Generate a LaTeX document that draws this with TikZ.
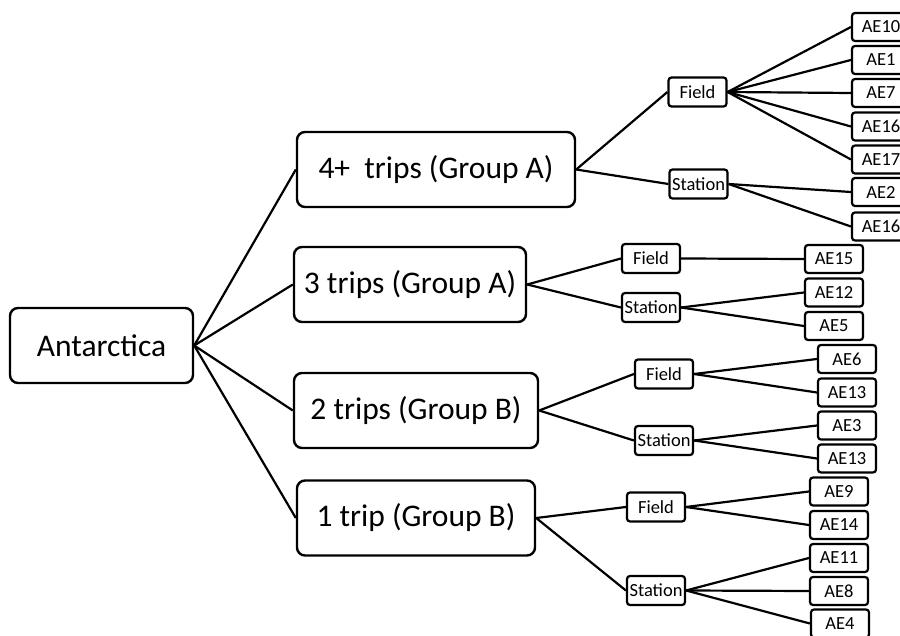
\documentclass[tikz,border=0pt]{standalone}
\usepackage{fontspec}
\setmainfont{Carlito}
\begin{document}
\begin{tikzpicture}[x=1pt,y=-1pt,
  bigbox/.style={draw, line width=2.4pt, rounded corners=8pt, inner sep=0pt, minimum height=75pt, font=\fontsize{31.5}{36}\selectfont},
  midbox/.style={draw, line width=2.2pt, rounded corners=3pt, inner sep=0pt, minimum width=58pt, minimum height=29pt, font=\fontsize{18.5}{21}\selectfont},
  leafbox/.style={draw, line width=2.2pt, rounded corners=3pt, inner sep=0pt, minimum width=58pt, minimum height=28pt, font=\fontsize{18.5}{21}\selectfont},
  conn/.style={line width=2.2pt}]
\useasboundingbox (0,0) rectangle (900,636);
\clip (0,0) rectangle (900,636);
% root and groups
\node[bigbox, minimum width=183pt] (ant) at (101.5,345.5) {Antarctica};
\node[bigbox, minimum width=278pt] (g4) at (436,169.5) {4+~~trips (Group A)};
\node[bigbox, minimum width=232pt] (g3) at (410,284.5) {3 trips (Group A)};
\node[bigbox, minimum width=244pt] (g2) at (416,410.5) {2 trips (Group B)};
\node[bigbox, minimum width=238pt] (g1) at (416,518) {1 trip (Group B)};
% field / station
\node[midbox] (f4) at (697.5,92) {Field};
\node[midbox] (s4) at (698.5,184) {Station};
\node[midbox] (f3) at (651,258.5) {Field};
\node[midbox] (s3) at (651,307.5) {Station};
\node[midbox] (f2) at (664,374) {Field};
\node[midbox] (s2) at (664,440.5) {Station};
\node[midbox] (f1) at (656,507) {Field};
\node[midbox] (s1) at (656,590.5) {Station};
% leaves
\node[leafbox] (a10) at (881,27) {AE10};
\node[leafbox] (a1) at (881,60) {AE1};
\node[leafbox] (a7) at (881,93) {AE7};
\node[leafbox] (a16) at (881,126.5) {AE16};
\node[leafbox] (a17) at (881,159.5) {AE17};
\node[leafbox] (a2) at (881,192) {AE2};
\node[leafbox] (a16b) at (881,226.5) {AE16};
\node[leafbox] (a15) at (834,259) {AE15};
\node[leafbox] (a12) at (834,292.5) {AE12};
\node[leafbox] (a5) at (834,326) {AE5};
\node[leafbox] (a6) at (847,359) {AE6};
\node[leafbox] (a13) at (847,392.5) {AE13};
\node[leafbox] (a3) at (847,425.5) {AE3};
\node[leafbox] (a13b) at (847,458.5) {AE13};
\node[leafbox] (a9) at (839,491.5) {AE9};
\node[leafbox] (a14) at (839,525) {AE14};
\node[leafbox] (a11) at (839,558) {AE11};
\node[leafbox] (a8) at (839,591) {AE8};
\node[leafbox] (a4) at (840,623.5) {AE4};
% connectors
\foreach \g in {g4,g3,g2,g1} \draw[conn] (ant.east) -- (\g.west);
\draw[conn] (g4.east) -- (f4.west);
\draw[conn] (g4.east) -- (s4.west);
\draw[conn] (g3.east) -- (f3.west);
\draw[conn] (g3.east) -- (s3.west);
\draw[conn] (g2.east) -- (f2.west);
\draw[conn] (g2.east) -- (s2.west);
\draw[conn] (g1.east) -- (f1.west);
\draw[conn] (g1.east) -- (s1.west);
\foreach \l in {a10,a1,a7,a16,a17} \draw[conn] (f4.east) -- (\l.west);
\foreach \l in {a2,a16b} \draw[conn] (s4.east) -- (\l.west);
\draw[conn] (f3.east) -- (a15.west);
\foreach \l in {a12,a5} \draw[conn] (s3.east) -- (\l.west);
\foreach \l in {a6,a13} \draw[conn] (f2.east) -- (\l.west);
\foreach \l in {a3,a13b} \draw[conn] (s2.east) -- (\l.west);
\foreach \l in {a9,a14} \draw[conn] (f1.east) -- (\l.west);
\foreach \l in {a11,a8,a4} \draw[conn] (s1.east) -- (\l.west);
\end{tikzpicture}
\end{document}
